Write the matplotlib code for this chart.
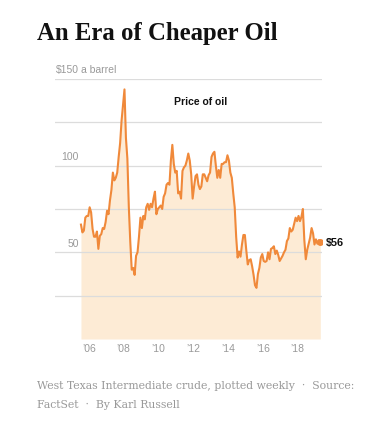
import numpy as np
import matplotlib
matplotlib.use("Agg")
import matplotlib.pyplot as plt

# monthly WTI price, Jan 2006 - Oct 2019 (weekly extremes kept)
first_year = 2006
prices = [
    66, 61.5, 62.5, 70, 71, 71, 76, 73, 63.5, 59, 59, 62,          # 2006
    52, 59.5, 60.5, 64, 63.5, 67.5, 74, 72, 80, 86, 96, 91.5,      # 2007
    93, 96, 105, 113, 126, 135, 144, 116, 104, 76, 56, 40,         # 2008
    41, 37, 48, 50, 59, 70, 64, 71, 69, 76, 78, 74.5,              # 2009
    78, 76, 81, 85, 72, 75, 76, 77, 75, 82, 84, 89,                # 2010
    90, 89, 103, 112, 101, 96, 97, 84, 85, 81, 97, 99,             # 2011
    100, 103, 107, 103, 95, 81, 88, 94, 95, 89, 86.5, 88,          # 2012
    95, 95, 93, 91, 94.5, 96, 105, 107, 108, 100, 93, 97.5,        # 2013
    93, 101, 101, 102, 102, 106, 103, 96, 93, 84, 76, 59,          # 2014
    47, 50.5, 47.5, 54.5, 60, 60, 51, 43, 45.5, 46, 42, 37,        # 2015
    31, 29.5, 37.5, 41, 47, 49, 45, 44.5, 45, 50, 46, 52,          # 2016
    52.5, 53.5, 49, 51, 48.5, 45, 46.5, 48, 50, 51.5, 56.5, 58,    # 2017
    64, 62, 63, 66.5, 70, 68, 71, 68, 70.5, 75, 57, 46,            # 2018
    51.5, 55, 58.5, 64, 61, 54.5, 57.5, 55, 57, 56,                # 2019
]
t = first_year + (np.arange(len(prices)) + 0.5) / 12

year_ticks = [2006, 2008, 2010, 2012, 2014, 2016, 2018]
year_labels = ["\u201906", "\u201908", "\u201910", "\u201912", "\u201914", "\u201916", "\u201918"]
grid_vals = [25, 50, 75, 100, 125, 150]
ylabels = {50: "50", 100: "100", 150: "$150"}

line_col = "#f0893a"
fill_col = "#fdebd5"
gray = "#999999"
sans = ["Liberation Sans", "DejaVu Sans"]

fig = plt.figure(figsize=(3.72, 4.27), dpi=100)
ax = fig.add_axes([55 / 372, 1 - 340 / 427, 267 / 372, 260 / 427])

ax.fill_between(t, 0, prices, color=fill_col, lw=0, zorder=1)
for g in grid_vals:
    ax.axhline(g, color="#dcdcdc", lw=0.9, zorder=2)
ax.plot(t, prices, color=line_col, lw=1.5, zorder=3, solid_joinstyle="round")
ax.plot(t[-1], prices[-1], "o", color=line_col, ms=4, zorder=4)
ax.text(t[-1] + 0.3, prices[-1], "$56", fontsize=7.8, fontweight="bold",
        family=sans, va="center", ha="left", color="#111111")

ax.set_xlim(2004.55, 2019.89)
ax.set_ylim(0, 150)
ax.set_xticks([y + 0.5 for y in year_ticks])
ax.set_xticklabels(year_labels, family=sans, fontsize=7.5, color=gray)
ax.tick_params(axis="x", length=0, pad=3)
ax.set_yticks([])
for s in ax.spines.values():
    s.set_visible(False)

xl = 2005.93
for v, lab in ylabels.items():
    ax.text(xl, v + 5.5, lab, ha="right", va="center", fontsize=7.5,
            family=sans, color=gray, clip_on=False)
ax.text(xl + 0.12, 150 + 5.5, "a barrel", ha="left", va="center",
        fontsize=7.5, family=sans, color=gray, clip_on=False)

ax.text(2012.94, 137.5, "Price of oil", ha="center", va="center",
        fontsize=7.5, fontweight="bold", family=sans, color="#111111")

fig.text(37 / 372, 1 - 40 / 427, "An Era of Cheaper Oil", ha="left",
         va="baseline", fontsize=17.8, fontweight="bold",
         family=["Liberation Serif", "DejaVu Serif"], color="#111111")

cap_font = ["DejaVu Serif"]
fig.text(37 / 372, 1 - 389 / 427,
         "West Texas Intermediate crude, plotted weekly  \u00b7  Source:",
         ha="left", va="baseline", fontsize=7.8, family=cap_font, color=gray)
fig.text(37 / 372, 1 - 408 / 427, "FactSet  \u00b7  By Karl Russell",
         ha="left", va="baseline", fontsize=7.8, family=cap_font, color=gray)

fig.savefig("out.png", dpi=100)
